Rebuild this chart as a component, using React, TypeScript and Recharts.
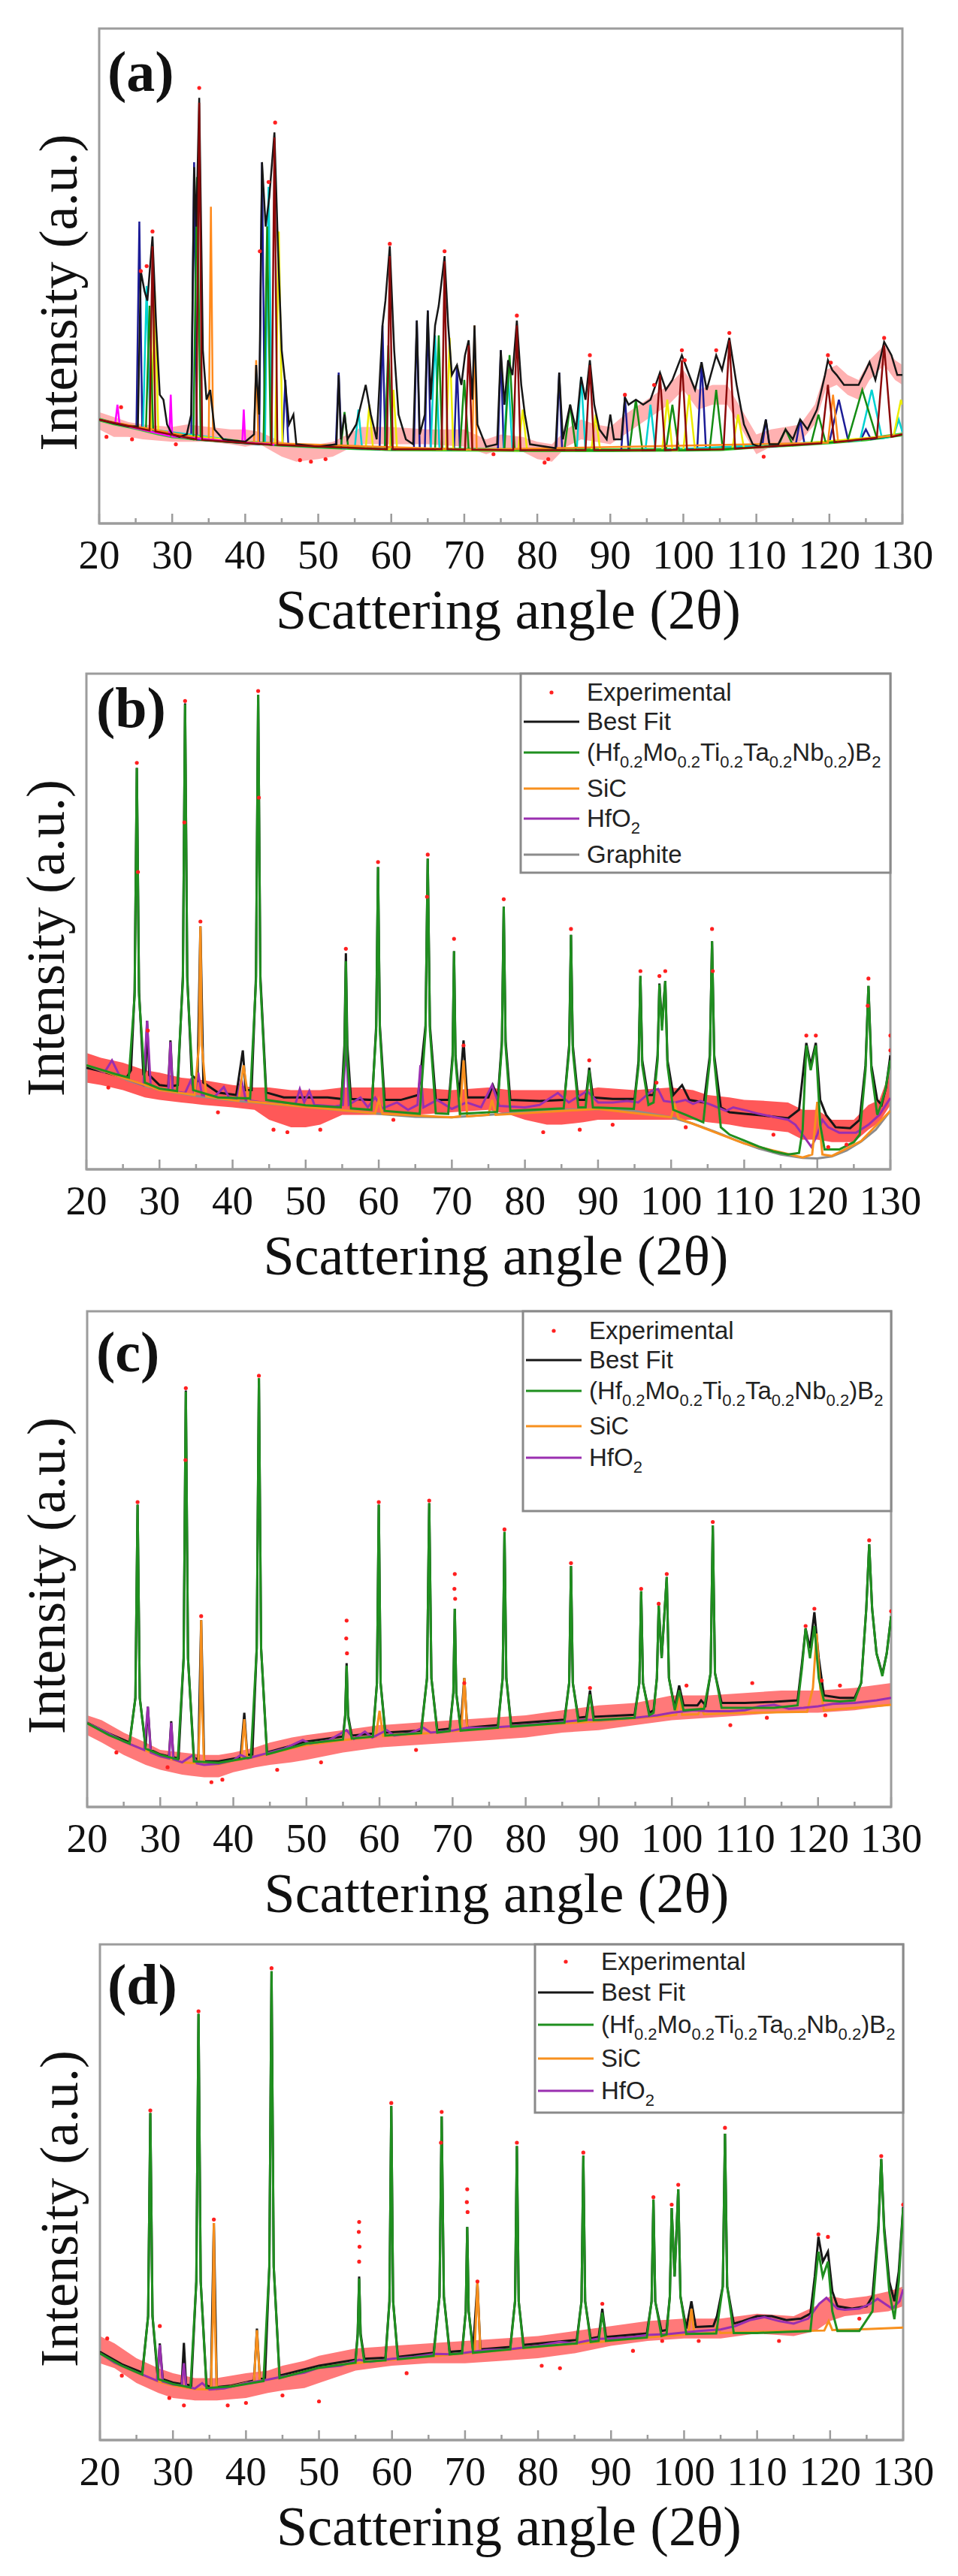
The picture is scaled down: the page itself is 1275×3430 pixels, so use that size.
import { ComposedChart, Line, Area, Scatter, XAxis, YAxis, ReferenceArea, Label } from "recharts";

type Pt = [number, number];
type Rng = [number, number, number];
type Part = [string, boolean];

const SERIF = '"Liberation Serif", "Times New Roman", serif';
const SANS = '"Liberation Sans", Arial, sans-serif';

const TICKS = [20, 25, 30, 35, 40, 45, 50, 55, 60, 65, 70, 75, 80, 85, 90, 95, 100, 105, 110, 115, 120, 125, 130];
const X_TITLE = "Scattering angle (2θ)";
const Y_TITLE = "Intensity (a.u.)";

const C_EXP = "#ff2020";
const C_FIT = "#161616";
const C_PHASE = "#1f8f1f";
const C_SIC = "#f7901e";
const C_HFO2 = "#9a2fb0";
const C_GRAPHITE = "#8c8c8c";

// legend texts, subscripts flagged with true
const PHASE_PARTS: Part[] = [["(Hf", false], ["0.2", true], ["Mo", false], ["0.2", true], ["Ti", false], ["0.2", true], ["Ta", false], ["0.2", true], ["Nb", false], ["0.2", true], [")B", false], ["2", true]];
const HFO2_PARTS: Part[] = [["HfO", false], ["2", true]];

// ---------- panel (a): many fitted components ----------
const aBand: Rng[] = [[20,19,22.5],[22,17.5,21.5],[24,17.5,20.5],[26,17,20],[30,16.5,19.5],[32,16.5,20],[35,16.5,19.5],[38,16,19],[40,15.5,19],[42,16,18.5],[45,13.5,16.5],[47,12.5,16],[50,13,16],[52,13.5,16.5],[54,15,18],[56,16,19.5],[60,16,19.5],[65,16,19],[70,15.5,19],[73,14,17],[75,15,18],[78,14.5,17.5],[80,13,16.5],[82,12.5,16],[84,15.5,19],[86,17,21],[88,16.5,20],[90,16,19.5],[92,18,22],[94,20,24],[96,22,26],[98,24,28],[100,27,31],[102,23,27],[104,24,28],[106,24,28],[108,19,23],[110,14,18],[112,15.5,19],[114,16,19.5],[116,16.5,20],[118,20,24],[119.5,27,31],[121,28,32],[122.5,26,30],[124,25,29],[125.5,29,33],[127.5,32,36],[129,29,33],[130,28,32]];
const aDots: Pt[] = [[33.7,88],[44.1,81],[27.3,59],[25.7,51],[59.8,56.5],[67.3,55],[77.2,42],[87.2,34],[99.8,35],[100.2,33],[119.8,34],[120.2,32.5],[127.5,37.5],[23,23.5],[21,17.5],[24.5,17],[30.5,16],[47.5,12.8],[49,12.5],[51,13],[74,14],[81,12.3],[81.5,13],[111,13.5],[92,26],[96,28],[106.3,38.5],[104.5,35],[26.5,52],[43.2,69],[42,55]];
const aBackground: Pt[] = [[20,21],[22,20.2],[25,19.3],[28,18.2],[30,17.6],[35,16.9],[40,16.4],[45,15.9],[50,15.5],[55,15.2],[60,15],[70,14.9],[80,14.8],[90,14.8],[100,14.9],[105,15],[110,15.5],[115,15.9],[120,16.4],[125,17],[130,18]];
const aNavy: Pt[] = [[20,21],[25.1,19.4],[25.5,61],[25.9,19.3],[32.6,17.1],[33,73],[33.4,17],[41.9,16],[42.3,73],[42.7,16],[45.1,15.9],[45.5,29],[45.9,15.9],[52.4,15.4],[52.8,30.5],[53.2,15.3],[58.4,15],[58.8,40],[59.2,15],[63.1,15],[63.5,41],[63.9,15],[64.6,15],[65,43],[65.4,15],[68.6,14.9],[69,32],[69.4,14.9],[74.6,14.9],[75,35],[75.4,14.9],[82.6,14.8],[83,30.5],[83.4,14.8],[91.5,14.8],[92,25.5],[92.5,14.8],[101.9,14.9],[102.5,32.6],[103.1,14.9],[110.8,15.5],[111.3,21],[111.8,15.5],[115.4,16],[116,21],[116.6,16],[120,16.4],[121.3,25],[122.6,16.6],[124.3,16.9],[125,19],[125.7,17],[130,18]];
const aCyan: Pt[] = [[20,21],[26,19],[26.5,48],[27,19],[42.7,16],[43.2,68],[43.7,15.9],[55,15.2],[55.5,23],[56,15.2],[65.4,15],[66,38],[66.6,15],[75.4,14.9],[76,30],[76.6,14.9],[85.4,14.8],[86,29.6],[86.6,14.8],[94.8,14.8],[95.5,24],[96.2,14.8],[124.2,16.8],[125.8,27],[127.2,17.2],[128.8,17.7],[129.5,21],[130,18.5]];
const aYellow: Pt[] = [[20,21],[27.1,18.6],[27.6,47],[28.1,18.4],[44.1,15.9],[44.6,59],[45.1,15.9],[56.5,15.2],[57,24],[57.5,15.1],[59.8,15],[60.3,27],[60.8,15],[67.5,14.9],[68,37.5],[68.5,14.9],[77.4,14.8],[78,23],[78.6,14.8],[87.4,14.8],[88,22],[88.6,14.8],[97.1,14.8],[97.8,25],[98.5,14.8],[100,14.9],[100.8,26],[101.6,14.9],[106.7,15.1],[107.5,22],[108.3,15.2],[128.8,17.7],[129.8,25],[130,24]];
const aGreen: Pt[] = [[20,21],[26.4,18.8],[26.9,44],[27.4,18.6],[32.9,17],[33.4,70],[33.9,16.9],[42.5,16],[43,60],[43.5,15.9],[53.1,15.3],[53.6,22.5],[54.1,15.3],[59.1,15],[59.6,36],[60.1,15],[66,15],[66.5,38],[67,15],[69.4,14.9],[70,29],[70.6,14.9],[75.5,14.9],[76.2,34],[76.9,14.9],[83.7,14.8],[84.5,24],[85.3,14.8],[92.6,14.8],[93.5,25],[94.4,14.8],[97.6,14.8],[98.5,24],[99.4,14.8],[103.6,14.9],[104.5,27],[105.4,15],[113,15.7],[114,19],[115,15.8],[117.5,16.2],[118.5,22],[119.5,16.3],[122.5,16.7],[124.5,27],[126.5,17.2],[130,18]];
const aOrange: Pt[] = [[20,21],[35,16.9],[35.3,64],[35.6,16.8],[41.2,16.3],[41.5,33],[41.8,16.3],[71.1,14.9],[71.4,40],[71.7,14.9],[119.8,16.3],[120.5,26],[121.2,16.5],[130,18]];
const aMagenta: Pt[] = [[20,21],[22.2,20.2],[22.5,24],[22.8,20],[29.6,17.7],[29.8,26],[30,17.6],[39.6,16.4],[39.8,23],[40,16.4],[44,15.9]];
const aBrown: Pt[] = [[20,21],[26.9,18.8],[27.3,56],[27.7,18.6],[33.3,17],[33.7,85],[34.1,16.9],[43.6,15.9],[44,78],[44.4,15.9],[59.4,15],[59.8,54],[60.2,15],[66.9,15],[67.3,53],[67.7,15],[70.1,14.9],[70.6,36],[71.1,14.9],[76.7,14.8],[77.2,40],[77.7,14.8],[86.6,14.8],[87.2,32],[87.8,14.8],[96.1,14.8],[96.8,30],[97.5,14.8],[99.1,14.9],[99.8,33],[100.5,14.9],[105.5,15],[106.3,37],[107.1,15.1],[118.9,16.2],[119.8,28],[120.7,16.4],[126.5,17.3],[127.5,36],[128.5,17.5],[130,18]];
const aFit: Pt[] = [[20,21],[22,20.2],[24,19.6],[25.3,19.6],[25.7,51],[26.2,47],[26.6,45],[27.3,58],[27.8,40],[28.3,26],[28.8,25],[29.3,20],[30,18],[31,17.5],[32,18],[32.6,22],[33,72],[33.3,60],[33.7,86],[34.2,35],[34.7,25],[35.2,27],[35.8,19],[37,17],[40,16.5],[41.2,18],[41.5,32],[41.9,22],[42.3,73],[42.8,60],[43.3,66],[44,79],[44.5,55],[45,35],[45.5,28],[46,20],[46.6,22],[47,16],[50,15.5],[52.5,16],[52.8,30],[53.1,17],[53.6,22],[54,17],[55.2,20],[56.5,28],[57.2,22],[58,17],[58.8,40],[59.2,45],[59.8,56],[60.4,35],[61,22],[62,17],[63,16],[63.5,41],[63.9,18],[64.6,22],[65,43],[65.4,25],[66,40],[66.5,44],[67.3,54],[67.8,40],[68.3,30],[69,32],[69.6,28],[70.1,34],[70.6,37],[71.1,25],[71.4,40],[71.8,20],[73,15.5],[74.5,16],[75,35],[75.5,24],[76,33],[76.6,30],[77.2,41],[77.8,28],[78.3,22],[79,16],[82.5,15.2],[83,30.5],[83.5,17],[84.5,24],[85.3,19],[86,29.6],[86.6,25],[87.2,33],[87.8,24],[88.5,19],[89.5,17],[90,22],[90.5,17],[91.5,17],[92,25.5],[92.5,24],[93.5,25],[94.5,24],[95.5,25],[96.8,30.5],[97.6,27],[98.5,29],[99.8,34],[100.8,30],[101.6,27],[102.5,32.6],[103.2,27],[104.5,34],[105.3,31],[106.3,37.5],[107.3,28],[108.3,20],[109.5,16],[110.5,15.5],[111.3,21],[111.8,16],[113,16],[114,19],[115,17],[116,21],[117,19],[118.3,23],[119.4,30],[119.8,33],[120.4,31],[121,30],[122,28],[123,28],[124,28],[125,31],[125.5,32.6],[126.3,29],[127.5,36.7],[128.5,34],[129.3,30],[130,30]];

// ---------- panel (b) ----------
const bBand: Rng[] = [[20,17.5,23.5],[22,17,22.5],[25,16,21.5],[28,14.5,20],[30,14,19.5],[33,13.5,18.5],[36,13,18],[40,12.5,17],[43,12,16.5],[45,10,16.5],[48,8.5,16],[50,8.5,16],[52,9,16],[55,11,16.5],[60,11,16.5],[65,11,16.5],[70,11.5,16],[75,12,16.5],[78,11,16],[80,10,16],[83,9,16],[85,9,16],[88,9.5,16],[90,10,16.5],[95,10,16],[100,10,16.5],[103,10,16],[105,9.5,15],[108,9,14.5],[110,8.5,14],[113,8,13.8],[116,7.5,13.5],[118,6,12],[120,6,12],[122,5.5,10],[125,5.5,10],[127,8,13],[128.5,9.5,14],[130,13,20]];
const bDots: Pt[] = [[26.9,82],[27.05,60],[33.5,94.5],[33.4,70],[35.6,50],[43.5,96.5],[43.6,75],[28.4,28],[55.5,44.5],[59.9,62],[66.7,63.5],[66.6,55],[70.3,46.5],[71.6,25],[77.1,54.5],[86.3,48.5],[88.8,22],[95.8,40],[98.4,39],[99.2,40],[105.6,48.5],[105.7,40],[118.5,27],[119.8,27],[127,38.5],[126.9,33],[130,24],[130,27],[45.6,8],[47.5,7.5],[52,8],[82.5,7.5],[87.5,8],[23,16.5],[38,11.5],[62,10],[92,9],[114,7],[121.5,4.5],[124,5],[102,8.5],[98,17.5]];
const bGraphite: Pt[] = [[20,21],[22,20],[24,19],[26,17.8],[28,16.8],[30,16],[35,14.8],[40,13.9],[45,13.2],[50,12.6],[55,11.9],[60,11.2],[65,10.6],[70,10.5],[75,11],[80,11.6],[85,12],[90,12.2],[95,11.8],[100,10.5],[103,9.2],[106,7.6],[109,5.8],[112,4.2],[115,3],[118,2.3],[120,2.2],[122,2.6],[124,3.8],[126,5.6],[128,8],[130,11.8]];
const bSiC: Pt[] = [[20,21],[30,16],[34.8,15],[35.4,25],[35.6,49],[35.8,25],[36.4,14.7],[40.8,13.8],[41.5,21],[42.2,13.7],[59.5,11.3],[60,14],[60.5,11.2],[70,10.5],[71.1,10.7],[71.6,22],[72.1,10.7],[75,11],[75.5,14],[76,11],[90,12.2],[100,10.5],[100.5,13],[101,10.3],[110,5.2],[118,2.4],[119.3,3],[120,13.6],[120.7,3],[122,2.7],[126,5.7],[130,11.8]];
const bHfO2: Pt[] = [[20,21],[22.5,19.6],[23.5,22],[24.5,19],[26,18],[27.8,17],[28.3,30],[28.8,16.6],[30.5,16],[31.2,16],[31.5,25.7],[31.8,15.8],[33.5,15.4],[34.3,18],[34.8,15.2],[35.3,19.5],[35.8,15],[37.5,14.6],[38.8,16.6],[39.5,14.5],[40.6,14.2],[41.2,18.3],[41.8,14],[44,13.5],[47,13.2],[48.6,13.2],[49.2,16.2],[49.8,13.5],[50.5,15.8],[51.2,13],[54,12.7],[55.1,13],[55.5,26],[55.9,13],[57.5,14.5],[58.5,12.5],[59.5,14.5],[60.5,12.3],[62.5,13.5],[64,12],[65.3,13],[65.7,21],[66.1,12.5],[68,14],[70,12.2],[72,13.5],[74,12.5],[75.5,17],[76.5,12.8],[80,12.5],[82,13],[84.5,15.4],[86,13.5],[88.5,15.8],[90,13.5],[92,13.5],[94,13.8],[95.5,13.5],[97.3,15.8],[98.2,16.2],[99,13.8],[100.5,13.5],[102,14],[103,13.2],[104,13.8],[105.5,13],[107.5,11.8],[108.5,12.5],[110.5,11.8],[112,11.2],[114.3,10.5],[116,10],[117,9],[118,7],[119.2,4.5],[120,7],[120.7,10],[121.5,8.5],[123,7.4],[125.3,7.4],[127,9],[128.5,11],[130,14.4]];
const bPhase: Pt[] = [[20,21],[24,19.2],[25.8,18.5],[26.6,35],[26.9,81],[27.2,35],[28,17.5],[30,16.3],[32.4,15.8],[33.2,38],[33.5,93.8],[33.8,38],[34.6,16],[38,14.5],[42.4,14.3],[43.2,38],[43.5,95.7],[43.8,38],[44.6,14],[50,12.9],[54.8,12.5],[55.3,22],[55.5,42],[55.7,22],[56.2,12.3],[59,12],[59.65,28],[59.9,61],[60.15,28],[60.8,11.8],[65.6,11.2],[66.4,28],[66.7,62.7],[67,28],[67.8,11.3],[69.5,11.2],[70.1,22],[70.3,44],[70.5,22],[71.1,11.2],[76.2,11.6],[76.85,25],[77.1,53],[77.35,25],[78,11.8],[85.3,12.3],[86.05,24],[86.3,47.3],[86.55,24],[87.3,12.5],[88.3,12.5],[88.8,20],[89.3,12.5],[94.9,12.2],[95.55,21],[95.8,39],[96.05,21],[96.9,13],[97.6,13.5],[98.15,22],[98.4,37.3],[98.75,28],[99.2,38],[99.5,21],[100.3,12],[102,11],[104.4,9.5],[105.3,22],[105.6,46],[105.9,22],[106.8,8.5],[108,7],[110,5.8],[112,4.6],[114,3.6],[116,3],[117.5,3.3],[118,8],[118.5,25],[119.1,20],[119.8,25],[120.4,9],[121,4],[123,4],[125,5.5],[125.8,7],[126.6,20],[127,37],[127.4,20],[128.2,11],[128.7,12.9],[129.3,16],[130,22]];
const bFit: Pt[] = [[20,20.5],[22,19.8],[24,19],[25.5,18.5],[26.1,20],[26.6,36],[26.9,81],[27.2,36],[27.8,19],[28.1,20],[28.3,30],[28.6,19],[30,17],[31.2,16.8],[31.5,26],[31.8,16.8],[32.5,17],[33.2,39],[33.5,94],[33.8,39],[34.4,19],[35.2,18],[35.6,49],[36,17.5],[38,15.5],[40.5,15],[41.4,24],[41.8,16],[42.6,16],[43.2,39],[43.5,95.7],[43.8,39],[44.6,15.5],[47,14.5],[50,14.5],[53,14.5],[54.9,14.2],[55.3,25],[55.5,43.6],[55.7,25],[56.2,14.2],[59.1,14],[59.65,29],[59.9,61],[60.15,29],[60.8,14],[63,14],[65.4,15],[65.7,19],[66.4,29],[66.7,62.7],[67,29],[67.8,14],[69.6,14],[70.1,23],[70.3,44],[70.5,23],[71,14.5],[71.6,26],[72.1,14.5],[75,14.5],[75.6,17],[76.3,14.5],[76.85,26],[77.1,53],[77.35,26],[78,14],[82,13.8],[85.4,14],[86.05,25],[86.3,47.3],[86.55,25],[87.3,14],[88.3,14],[88.8,20.5],[89.3,14.5],[92,14.2],[95,14.2],[95.55,22],[95.8,39],[96.05,22],[96.8,15],[97.6,15],[98.15,23],[98.4,37.5],[98.75,29],[99.2,38],[99.5,22],[100.3,15],[101.5,17],[102.5,14],[104.5,13.5],[105.3,23],[105.6,46],[105.9,23],[106.8,12.5],[108,11.5],[110,11.2],[113,10.8],[116,10.3],[117.5,12],[118.5,25.5],[119.1,21],[119.8,25.5],[120.4,14],[121.2,11],[122.5,8.5],[124.5,8.3],[125.8,10],[126.6,21],[127,37],[127.4,21],[128.2,14],[128.8,13],[129.4,16.5],[130,23]];

// ---------- panel (c) ----------
const cBand: Rng[] = [[20,14.5,18.5],[22,13,17.5],[25,10.5,15],[28,8.5,13],[30,7.5,11.5],[33,6.5,11],[36,6,10.5],[38,6,10.5],[40,7,11],[43,8,12],[45,8.5,13],[48,9,14],[50,9.5,14.5],[55,11,15.5],[60,12,16.5],[65,12.5,17],[70,13,17.5],[75,13.5,18],[80,14,18.5],[85,15,19.5],[90,15.5,20.5],[95,16.5,21],[100,17.5,22.5],[105,18,22.5],[110,18.5,23],[115,19,23.5],[120,19,23.5],[125,19.5,24],[130,20.5,25]];
const cDots: Pt[] = [[26.9,61.5],[33.5,84.5],[33.45,70],[35.6,38.5],[43.5,87],[55.5,37.6],[55.45,34],[55.55,31],[59.9,61.5],[66.8,61.8],[70.3,47],[70.25,44],[70.35,42],[71.6,25],[77.1,56],[86.2,49.2],[95.8,44],[98.2,41],[99.3,47],[105.6,57.5],[118.3,36.5],[119.5,40],[127,53.8],[130,39.5],[88.8,24],[37,5],[38.5,5.5],[46,7.5],[24,11],[31,8],[65,11.5],[52,9],[108,16.5],[113,18],[121,18.5],[111,25],[102,24.5],[120.5,25.5],[123,24.5]];
const cHfO2: Pt[] = [[20,16.9],[22,15.5],[25,13.2],[27.8,11.5],[28.3,20.2],[28.7,11],[30,10.2],[31.2,9.8],[31.5,17],[31.8,9.6],[33,9],[34.5,10.5],[35,8.8],[36,8.5],[38,8.7],[40,9.4],[41,10.5],[42,9.8],[45,11],[47,11.8],[49.5,13.5],[50.5,12.8],[53,13.4],[55.5,15.5],[56.5,13.7],[58,15.2],[59,14],[61,15.5],[62,14.4],[64,14.8],[66,16],[67,15],[70,15.4],[72,16],[75,16],[78,16.3],[80,16.5],[84,17],[88,17.6],[90,17.5],[95,18],[98,18.5],[100,19],[103,19.5],[105,19.3],[108,19.3],[110,19.5],[112,20.3],[114,20.6],[116,19.8],[118,20],[120,20.3],[122,20.8],[125,21],[128,21.5],[130,22]];
const cSiC: Pt[] = [[20,16.9],[25,13.2],[30,10.2],[33,9],[35.2,8.8],[35.45,20],[35.6,37.7],[35.75,20],[36,8.6],[38,8.6],[40,9.3],[41.1,9.6],[41.5,17.7],[41.9,9.8],[45,10.8],[50,12.5],[55,13.5],[59.5,14.2],[60,19.4],[60.5,14.3],[65,14.7],[70,15.3],[71.2,15.4],[71.6,26],[72,15.5],[75,15.8],[80,16.4],[90,17.3],[100,18.5],[100.6,18.6],[101,23.5],[101.4,18.6],[103.6,18.7],[104,20],[104.4,18.7],[110,19],[118.5,19.2],[119.3,24],[119.8,35],[120.3,24],[120.8,19.5],[125,20],[130,20.6]];
const cPhase: Pt[] = [[20,16.9],[23,14.5],[25.8,12.8],[26.6,22],[26.9,61],[27.2,22],[28,11.8],[30,10.5],[32.4,9.6],[33.2,30],[33.5,83.8],[33.8,30],[34.6,9.2],[38,8.9],[42.4,10],[43.2,32],[43.5,86.5],[43.8,32],[44.6,10.6],[50,12.8],[55,13.6],[55.3,18],[55.5,28.5],[55.7,18],[56.2,13.8],[59.1,14.2],[59.65,25],[59.9,61],[60.15,25],[60.8,14.4],[65.7,14.9],[66.5,26],[66.8,61.3],[67.1,26],[67.9,15],[69.6,15.3],[70.1,23],[70.3,40],[70.5,23],[71.1,15.4],[76.2,16],[76.85,26],[77.1,55.5],[77.35,26],[78,16.2],[85.3,17],[85.95,25],[86.2,48.6],[86.45,25],[87.2,17.3],[88.3,17.5],[88.8,22.7],[89.3,17.5],[94.9,18],[95.55,25],[95.8,43.5],[96.05,25],[96.9,18.5],[97.5,19],[97.95,26],[98.2,40.6],[98.6,30],[99.3,46.4],[99.6,26],[100.4,19.5],[101,23.5],[101.6,19.5],[104.4,19.8],[105.3,27],[105.6,56.8],[105.9,27],[106.8,20],[110,20],[114,20],[117.2,20.5],[117.8,28],[118.3,36],[118.9,30],[119.5,36.5],[120.1,26],[120.8,21.5],[123,21.3],[125,21.5],[125.9,25],[126.6,40],[127,53],[127.4,40],[128,31],[128.8,26.4],[129.4,31],[130,38.5]];
const cFit: Pt[] = [[20,17],[23,14.8],[25.8,13],[26.6,22],[26.9,61],[27.2,22],[28,12.2],[28.3,20.2],[28.7,11.5],[30,10.6],[31.2,10.2],[31.5,17.3],[31.8,10],[32.5,9.8],[33.2,30],[33.5,84],[33.8,30],[34.6,10],[35.2,9.5],[35.6,37.7],[36,9.2],[38,9.2],[41,10],[41.5,19],[41.9,10.5],[42.6,10.6],[43.2,32],[43.5,86.5],[43.8,32],[44.6,11],[50,13.2],[55,14.2],[55.3,18.5],[55.5,29],[55.7,18.5],[56.2,14.4],[59.1,14.8],[59.65,25],[59.9,61],[60.15,25],[60.8,15],[65.7,15.4],[66.5,26],[66.8,61.3],[67.1,26],[67.9,15.5],[69.6,15.8],[70.1,23],[70.3,40],[70.5,23],[71.1,16],[71.6,26],[72,16],[76.2,16.5],[76.85,26],[77.1,55.5],[77.35,26],[78,16.8],[85.3,17.6],[85.95,25],[86.2,48.6],[86.45,25],[87.2,18],[88.3,18.2],[88.8,23.5],[89.3,18.2],[94.9,18.6],[95.55,25],[95.8,43.5],[96.05,25],[96.9,19],[97.5,19.5],[97.95,26],[98.2,40.6],[98.6,30],[99.3,46.4],[99.6,26],[100.4,20],[101,24.5],[101.6,20.5],[103.5,20.5],[104,21.5],[104.6,20.5],[105.3,27],[105.6,56.8],[105.9,27],[106.8,21],[110,21],[114,21.2],[117.2,21.5],[117.8,29],[118.3,36],[118.9,32],[119.5,39.3],[120.1,30],[120.8,22.5],[123,22],[125,22],[125.9,25],[126.6,40],[127,53],[127.4,40],[128,31],[128.8,26.8],[129.4,31],[130,38.5]];

// ---------- panel (d) ----------
const dBand: Rng[] = [[20,15.5,21],[22,14.5,19.5],[25,11.5,16.5],[28,9.5,14.5],[30,8.5,13.5],[33,8,12.5],[36,8,12.5],[40,8.5,13.5],[43,9.5,14],[45,10,15],[48,10.5,16],[50,11.5,17],[55,14,18.5],[60,15,19],[65,15.5,19.5],[70,15.5,20],[75,16,20.5],[80,16.5,21],[85,17.5,22],[90,19,23],[95,20,24],[100,20.5,24.5],[105,20.5,24.5],[110,21.5,25.5],[115,21,25],[118,22,27],[120,24,29],[122,25,28.5],[125,25.5,29],[128,26,30],[130,27,31]];
const dDots: Pt[] = [[26.9,66.5],[28.2,23],[33.5,86.5],[35.6,44.5],[43.5,95.2],[55.5,44],[55.45,42],[55.55,39],[55.5,36],[59.9,68],[66.8,66.2],[66.7,60],[70.3,50.6],[70.25,48],[70.35,46],[71.7,32],[77.1,60],[86.2,58],[88.8,27.5],[95.8,49],[98.3,47.5],[99.2,51.5],[105.6,63],[118.4,41.5],[119.7,41],[127,57.3],[130,47.5],[31.5,7],[29.5,8.5],[40,7.5],[37.5,7],[50,7.8],[45,9],[23,13],[62,13.5],[80.5,15],[83,14.5],[97,20],[113,20],[124,24.5],[21,20.5],[102,20],[93,18]];
const dSiC: Pt[] = [[20,17.5],[22,15.5],[25,13.6],[28,11.8],[30,11],[33,10.3],[35.2,10.2],[35.45,24],[35.6,43.8],[35.75,24],[36,10.2],[37,10.5],[40,11.5],[41.1,11.7],[41.5,22.2],[41.9,11.9],[45,12.7],[50,14.5],[55,15.5],[60,16.2],[65,16.8],[70,17.5],[71.3,17.6],[71.7,31.7],[72.1,17.7],[75,18.1],[80,18.8],[85,19.4],[90,20],[95,20.7],[100,21.3],[100.6,21.4],[101,26.5],[101.4,21.4],[104,21.6],[104.5,23],[105,21.6],[110,21.8],[115,22],[119.2,22.1],[119.8,24],[120.3,22.2],[125,22.4],[130,22.7]];
const dHfO2: Pt[] = [[20,17.5],[22,15.6],[25,13.7],[27.8,12],[28.2,19.2],[28.6,11.8],[30,11.2],[31.2,11],[31.5,15.5],[31.8,10.8],[33,10.4],[34,11.5],[35,10.2],[37,10.4],[40,11.5],[43,12.2],[45,12.8],[48,13.6],[50,14.6],[53,15],[55.5,16.2],[57,15.8],[60,16.4],[63,16.8],[66,17.4],[68,17.3],[70,17.6],[73,18.2],[76,18.3],[80,19],[83,19.8],[85,19.5],[88,20.4],[90,20.5],[93,20.8],[95,21.2],[98,21.4],[100,21.7],[102,22],[105,22.3],[107,23],[109,24.2],[111,24.8],[113,24],[115,23.5],[117,24.5],[118.5,27.5],[119.5,28.7],[121,26.5],[122,26.3],[124,26.5],[125.5,27.5],[126.5,28.5],[127.5,27.5],[128.5,26.5],[129.5,28],[130,30.4]];
const dPhase: Pt[] = [[20,17.5],[23,15],[25.8,13.2],[26.6,25],[26.9,66],[27.2,25],[28,12.3],[30,11.3],[32.4,10.6],[33.2,32],[33.5,86],[33.8,32],[34.6,10.5],[38,10.8],[42.4,11.9],[43.2,35],[43.5,94.6],[43.8,35],[44.6,12.5],[50,14.6],[55,15.6],[55.3,21],[55.5,32.6],[55.7,21],[56.2,15.8],[59.1,16.1],[59.65,28],[59.9,67.4],[60.15,28],[60.8,16.3],[65.7,17],[66.5,29],[66.8,65.3],[67.1,29],[67.9,17.3],[69.6,17.5],[70.1,26],[70.3,43],[70.5,26],[71.1,17.6],[76.2,18.3],[76.85,28],[77.1,59.3],[77.35,28],[78,18.6],[85.3,19.5],[85.95,28],[86.2,57.4],[86.45,28],[87.2,19.8],[88.3,20],[88.8,25.7],[89.3,20],[94.9,20.7],[95.55,28],[95.8,48.5],[96.05,28],[96.9,21],[97.6,21.3],[98.05,29],[98.3,46.8],[98.7,33],[99.2,50.6],[99.5,29],[100.3,21.4],[104.4,21.5],[105.3,31],[105.6,61.8],[105.9,31],[106.8,21.6],[110,21.6],[114,21.8],[117.3,22],[117.9,31],[118.4,38],[119,33],[119.7,36],[120.3,26],[121,22],[124,22],[125.8,26],[126.6,42],[127,56.7],[127.4,42],[128.1,30],[128.8,24.4],[129.4,32],[130,46.8]];
const dFit: Pt[] = [[20,17.8],[23,15.3],[25.8,13.6],[26.6,25],[26.9,66],[27.2,25],[27.9,12.8],[28.2,19.5],[28.6,12.3],[30,11.6],[31.2,11.3],[31.5,19.6],[31.8,11.2],[32.5,11],[33.2,32],[33.5,86],[33.8,32],[34.6,11],[35.2,10.7],[35.6,43.8],[36,10.7],[38,11],[41.1,12],[41.5,22.5],[41.9,12.3],[42.6,12.4],[43.2,35],[43.5,94.6],[43.8,35],[44.6,13],[50,15],[55,16.2],[55.3,21.5],[55.5,33],[55.7,21.5],[56.2,16.4],[59.1,16.6],[59.65,28],[59.9,67.4],[60.15,28],[60.8,16.8],[65.7,17.6],[66.5,29],[66.8,65.3],[67.1,29],[67.9,17.8],[69.6,18],[70.1,26],[70.3,43],[70.5,26],[71.1,18.2],[71.7,31.7],[72.1,18.3],[76.2,18.8],[76.85,28],[77.1,59.3],[77.35,28],[78,19.2],[85.3,20.2],[85.95,28],[86.2,57.4],[86.45,28],[87.2,20.5],[88.3,20.8],[88.8,26.5],[89.3,20.8],[94.9,21.5],[95.55,28],[95.8,48.5],[96.05,28],[96.9,22],[97.6,22.2],[98.05,29],[98.3,46.8],[98.7,33],[99.2,50.6],[99.5,29],[100.3,22.5],[101,28],[101.6,22.8],[104,23],[104.5,25],[105.3,31],[105.6,61.8],[105.9,31],[106.8,23.5],[108,24],[110,25],[112,25],[114,24.2],[116,24.5],[117.3,25.5],[117.9,33],[118.4,41],[119,36],[119.7,38],[120.3,30],[121,27],[123,26.5],[125,27],[125.8,29],[126.6,43],[127,56.7],[127.4,43],[128.1,32],[128.8,28],[129.4,34],[130,47]];

const toPts = (a: Pt[]) => a.map(([x, y]) => ({ x, y }));
const toBand = (a: Rng[]) => a.map(([x, lo, hi]) => ({ x, r: [lo, hi] }));

interface Series { data: Pt[]; color: string; width: number }
interface LegendRow { kind: "dot" | "line"; color: string; label: Part[]; dy: number }
interface PanelDef {
  tag: string;
  l: number; r: number; t: number; b: number;
  tagX: number; tagY: number;
  band: Rng[]; bandOpacity: number;
  dots: Pt[];
  series: Series[];
  legend?: { x: number; w: number; h: number; rows: LegendRow[] };
}

const rowsBase = (dys: number[]): LegendRow[] => [
  { kind: "dot", color: C_EXP, label: [["Experimental", false]], dy: dys[0] },
  { kind: "line", color: C_FIT, label: [["Best Fit", false]], dy: dys[1] },
  { kind: "line", color: C_PHASE, label: PHASE_PARTS, dy: dys[2] },
  { kind: "line", color: C_SIC, label: [["SiC", false]], dy: dys[3] },
  { kind: "line", color: C_HFO2, label: HFO2_PARTS, dy: dys[4] },
];

const panels: PanelDef[] = [
  {
    tag: "(a)", l: 132, r: 1201, t: 38, b: 697, tagX: 143, tagY: 121,
    band: aBand, bandOpacity: 0.35, dots: aDots,
    series: [
      { data: aBackground, color: "#33cc33", width: 5 },
      { data: aNavy, color: "#1c1c96", width: 2.5 },
      { data: aCyan, color: "#00d2d2", width: 2.5 },
      { data: aYellow, color: "#ecec00", width: 2.5 },
      { data: aGreen, color: "#138c13", width: 2.5 },
      { data: aOrange, color: "#ff8a1c", width: 2.5 },
      { data: aMagenta, color: "#ff00ff", width: 2.5 },
      { data: aFit, color: C_FIT, width: 2.5 },
      { data: aBrown, color: "#8b0a0a", width: 2.5 },
    ],
  },
  {
    tag: "(b)", l: 115, r: 1185, t: 897, b: 1557, tagX: 128, tagY: 968,
    band: bBand, bandOpacity: 0.75, dots: bDots,
    series: [
      { data: bGraphite, color: C_GRAPHITE, width: 3 },
      { data: bFit, color: C_FIT, width: 3 },
      { data: bHfO2, color: C_HFO2, width: 3 },
      { data: bSiC, color: C_SIC, width: 3 },
      { data: bPhase, color: C_PHASE, width: 3 },
    ],
    legend: {
      x: 693, w: 492, h: 265,
      rows: [...rowsBase([25, 64, 105, 153, 193]), { kind: "line", color: C_GRAPHITE, label: [["Graphite", false]], dy: 241 }],
    },
  },
  {
    tag: "(c)", l: 116, r: 1186, t: 1746, b: 2406, tagX: 128, tagY: 1826,
    band: cBand, bandOpacity: 0.6, dots: cDots,
    series: [
      { data: cFit, color: C_FIT, width: 3 },
      { data: cSiC, color: C_SIC, width: 3 },
      { data: cHfO2, color: C_HFO2, width: 3 },
      { data: cPhase, color: C_PHASE, width: 3 },
    ],
    legend: { x: 696, w: 490, h: 266, rows: rowsBase([26, 65, 106, 153, 195]) },
  },
  {
    tag: "(d)", l: 133, r: 1202, t: 2589, b: 3249, tagX: 143, tagY: 2668,
    band: dBand, bandOpacity: 0.6, dots: dDots,
    series: [
      { data: dFit, color: C_FIT, width: 3 },
      { data: dSiC, color: C_SIC, width: 3 },
      { data: dHfO2, color: C_HFO2, width: 3 },
      { data: dPhase, color: C_PHASE, width: 3 },
    ],
    legend: { x: 712, w: 490, h: 224, rows: rowsBase([23, 64, 107, 152, 195]) },
  },
];

function RichText({ parts }: { parts: Part[] }) {
  let prevSub = false;
  return (
    <>
      {parts.map(([s, isSub], i) => {
        const dy = isSub === prevSub ? 0 : isSub ? 9 : -9;
        prevSub = isSub;
        return (
          <tspan key={i} dy={dy} fontSize={isSub ? 22 : 33}>
            {s}
          </tspan>
        );
      })}
    </>
  );
}

function XTick(props: any) {
  const { x, y, payload } = props;
  const major = payload.value % 10 === 0;
  return (
    <g>
      <line x1={x} x2={x} y1={y} y2={y - (major ? 13 : 7)} stroke="#9c9c9c" strokeWidth={2.5} />
      {major && (
        <text x={x} y={y + 60} textAnchor="middle" fontFamily={SERIF} fontSize={55} fill="#111">
          {payload.value}
        </text>
      )}
    </g>
  );
}

function Panel({ p }: { p: PanelDef }) {
  const h = p.b - p.t;
  return (
    <div style={{ position: "absolute", left: 0, top: p.t - 10 }}>
      <ComposedChart width={1275} height={h + 180} margin={{ top: 10, right: 1275 - p.r, left: p.l, bottom: 0 }}>
        <XAxis
          type="number"
          dataKey="x"
          domain={[20, 130]}
          ticks={TICKS}
          interval={0}
          allowDataOverflow
          tickSize={0}
          tickMargin={0}
          tick={<XTick />}
          axisLine={{ stroke: "#9c9c9c", strokeWidth: 3 }}
          height={170}
        >
          <Label
            content={(lp: any) => {
              const vb = lp.viewBox;
              return (
                <text x={vb.x + vb.width / 2 + 10} y={vb.y + 140} textAnchor="middle" fontFamily={SERIF} fontSize={74} fill="#111">
                  {X_TITLE}
                </text>
              );
            }}
          />
        </XAxis>
        <YAxis type="number" dataKey="y" domain={[0, 100]} allowDataOverflow hide />
        <Area data={toBand(p.band)} dataKey="r" type="linear" stroke="none" fill={C_EXP} fillOpacity={p.bandOpacity} isAnimationActive={false} />
        {p.series.map((s, i) => (
          <Line key={i} data={toPts(s.data)} dataKey="y" type="linear" stroke={s.color} strokeWidth={s.width} dot={false} activeDot={false} isAnimationActive={false} />
        ))}
        <Scatter
          data={toPts(p.dots)}
          fill={C_EXP}
          isAnimationActive={false}
          shape={(sp: any) => <circle cx={sp.cx} cy={sp.cy} r={2.6} fill={C_EXP} />}
        />
        <ReferenceArea x1={20} x2={130} y1={0} y2={100} fill="none" stroke="#9c9c9c" strokeWidth={3} ifOverflow="visible" />
      </ComposedChart>
    </div>
  );
}

function Overlay() {
  return (
    <svg width={1275} height={3430} style={{ position: "absolute", left: 0, top: 0, pointerEvents: "none" }}>
      {panels.map((p) => {
        const cx = p.l - 54;
        const cy = (p.t + p.b) / 2 + 22;
        return (
          <g key={p.tag}>
            <text x={p.tagX} y={p.tagY} fontFamily={SERIF} fontWeight="bold" fontSize={76} fill="#111">
              {p.tag}
            </text>
            <text x={cx} y={cy} transform={`rotate(-90 ${cx} ${cy})`} textAnchor="middle" dominantBaseline="central" fontFamily={SERIF} fontSize={72} fill="#111">
              {Y_TITLE}
            </text>
            {p.legend && (
              <g>
                <rect x={p.legend.x} y={p.t} width={p.legend.w} height={p.legend.h} fill="#fff" stroke="#8a8a8a" strokeWidth={3} />
                {p.legend.rows.map((row, i) => {
                  const y = p.t + row.dy;
                  const x0 = p.legend!.x;
                  return (
                    <g key={i}>
                      {row.kind === "dot" ? (
                        <circle cx={x0 + 41} cy={y} r={2.6} fill={row.color} />
                      ) : (
                        <line x1={x0 + 4} x2={x0 + 78} y1={y} y2={y} stroke={row.color} strokeWidth={3} />
                      )}
                      <text x={x0 + 88} y={y + 11} fontFamily={SANS} fontSize={33} fill="#222">
                        <RichText parts={row.label} />
                      </text>
                    </g>
                  );
                })}
              </g>
            )}
          </g>
        );
      })}
    </svg>
  );
}

export default function App() {
  return (
    <div style={{ position: "absolute", left: 0, top: 0, width: 1275, height: 3430, background: "#fff" }}>
      {panels.map((p) => (
        <Panel key={p.tag} p={p} />
      ))}
      <Overlay />
    </div>
  );
}
